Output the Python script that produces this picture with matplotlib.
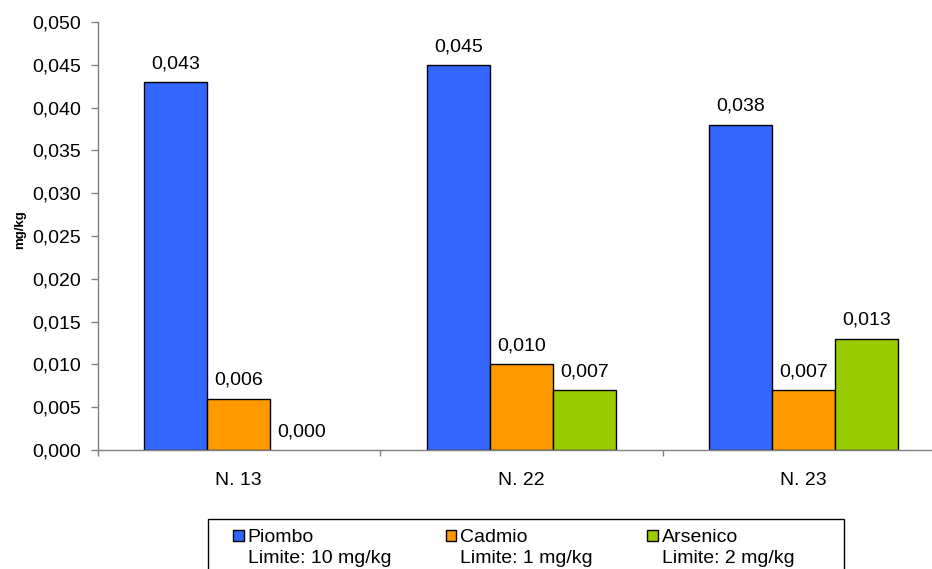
import matplotlib.pyplot as plt
import matplotlib.patches as mpatches
from matplotlib.container import BarContainer
from matplotlib.legend_handler import HandlerPatch
from matplotlib.ticker import FuncFormatter, FixedLocator
import numpy as np

campioni = ['N. 13', 'N. 22', 'N. 23']
serie = ['Piombo\nLimite: 10 mg/kg', 'Cadmio\nLimite: 1 mg/kg', 'Arsenico\nLimite: 2 mg/kg']
piombo = [0.043, 0.045, 0.038]
cadmio = [0.006, 0.010, 0.007]
arsenico = [0.000, 0.007, 0.013]
valori = [piombo, cadmio, arsenico]
colori = ['#3366FF', '#FF9900', '#99CC00']

plt.rcParams['font.family'] = ['Liberation Sans', 'DejaVu Sans']

W, H = 932, 569
fig = plt.figure(figsize=(W / 100, H / 100), dpi=100)
ax = fig.add_axes([97.5 / W, (H - 450) / H, 847.5 / W, 428 / H])

x = np.arange(len(campioni))
larghezza = 0.223
for i, (vals, col, lab) in enumerate(zip(valori, colori, serie)):
    pos = x + (i - 1) * larghezza
    barre = ax.bar(pos, vals, width=larghezza, color=col, edgecolor='black',
                   linewidth=1, label=lab)
    for b, v in zip(barre, vals):
        if v == 0:
            b.set_linewidth(0)
        ax.annotate(f'{v:.3f}'.replace('.', ','), (b.get_x() + b.get_width() / 2, v),
                    xytext=(0, 7), textcoords='offset points',
                    ha='center', va='bottom', fontsize=14)

ax.set_xlim(-0.5, len(campioni) - 0.5)
ax.set_ylim(0, 0.05)
ax.set_yticks(np.arange(0, 0.0501, 0.005))
ax.yaxis.set_major_formatter(FuncFormatter(lambda v, p: f'{v:.3f}'.replace('.', ',')))
ax.set_xticks(x)
ax.set_xticklabels(campioni)
ax.xaxis.set_minor_locator(FixedLocator(np.arange(-0.5, len(campioni), 1.0)))

for s in ['top', 'right']:
    ax.spines[s].set_visible(False)
for s in ['left', 'bottom']:
    ax.spines[s].set_color('#808080')
    ax.spines[s].set_linewidth(1)

ax.tick_params(axis='y', which='major', length=4.8, width=1, color='#808080',
               pad=7, labelsize=14)
ax.tick_params(axis='x', which='major', length=0, pad=16, labelsize=14)
ax.tick_params(axis='x', which='minor', length=4.5, width=1, color='#808080')

ax.set_ylabel('mg/kg', fontsize=9.5, fontweight='bold')
ax.yaxis.set_label_coords(-0.084, 0.514)


# quadratino allineato alla prima riga dell'etichetta
def quadrato_alto(legend, orig_handle, xdescent, ydescent, width, height, fontsize):
    return mpatches.Rectangle((-xdescent, -ydescent + 0.65 * fontsize), width, width)


def aggiorna(legend_handle, orig_handle):
    legend_handle.set_facecolor(orig_handle[0].get_facecolor())
    legend_handle.set_edgecolor('black')
    legend_handle.set_linewidth(1)


leg = fig.legend(loc='upper left', bbox_to_anchor=(233 / W, 1 - 529 / H),
                 ncol=3, frameon=False, fontsize=14, borderpad=0, borderaxespad=0,
                 handlelength=0.55, handleheight=0.55, handletextpad=0.2,
                 columnspacing=2.8,
                 handler_map={BarContainer: HandlerPatch(patch_func=quadrato_alto,
                                                         update_func=aggiorna)})
for t in leg.get_texts():
    t.set_linespacing(1.3)

fig.add_artist(mpatches.Rectangle((208 / W, -0.05), 636 / W, 0.05 + 1 - 519 / H,
                                  transform=fig.transFigure, fill=False,
                                  edgecolor='black', linewidth=1))

fig.savefig('out.png', dpi=100)
